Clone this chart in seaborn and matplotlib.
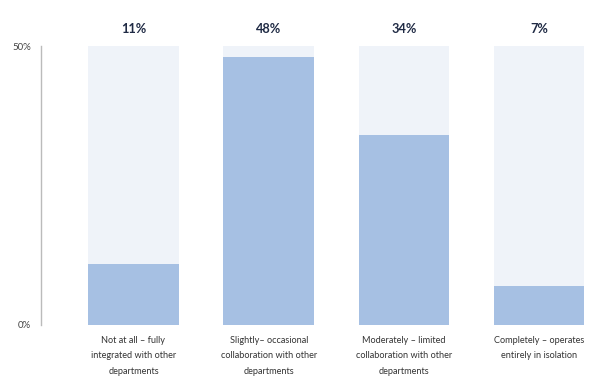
import pandas as pd
import matplotlib.pyplot as plt
import seaborn as sns

categories = [
    "Not at all \u2013 fully\nintegrated with other\ndepartments",
    "Slightly\u2013 occasional\ncollaboration with other\ndepartments",
    "Moderately \u2013 limited\ncollaboration with other\ndepartments",
    "Completely \u2013 operates\nentirely in isolation",
]
values = [11, 48, 34, 7]
background = [50, 50, 50, 50]
tick_values = [0, 50]
tick_labels = ["0%", "50%"]

df = pd.DataFrame({"category": categories, "value": values, "bg": background})

sns.set_theme(style="white")
plt.rcParams["font.family"] = ["Lato", "DejaVu Sans"]

fig = plt.figure(figsize=(6.06, 3.77), dpi=100)
W, H = 606, 377
ax = fig.add_axes([41 / W, 52 / H, (600 - 41) / W, 279 / H])

sns.barplot(data=df, x="category", y="bg", color="#eff3f9", width=0.67,
            saturation=1, linewidth=0, ax=ax, zorder=1)
sns.barplot(data=df, x="category", y="value", color="#a6c0e3", width=0.67,
            saturation=1, linewidth=0, ax=ax, zorder=2)

ax.set_xlim(-0.684, 3.45)
ax.set_ylim(0, 50)
ax.set_xlabel("")
ax.set_ylabel("")

for i, v in enumerate(values):
    ax.annotate(f"{v}%", (i, 50), xytext=(0, 8), textcoords="offset points",
                ha="center", va="bottom", fontsize=9.2, fontweight="bold",
                color="#1f2a44")

ax.set_yticks(tick_values)
ax.set_yticklabels(tick_labels, fontsize=7, color="#444444")
ax.tick_params(axis="y", length=3, width=0.8, color="#bbbbbb", pad=4)
ax.tick_params(axis="x", length=0, pad=8)
ax.set_xticks(range(len(categories)))
ax.set_xticklabels(categories, fontsize=6.6, color="#333333", linespacing=1.9,
                   va="top")

for s in ["top", "right", "bottom"]:
    ax.spines[s].set_visible(False)
ax.spines["left"].set_color("#bbbbbb")
ax.spines["left"].set_linewidth(1)

fig.savefig("out.png", dpi=100)
